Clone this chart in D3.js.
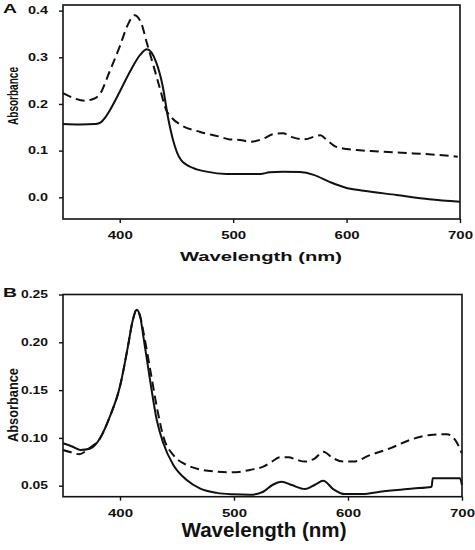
<!DOCTYPE html>
<html><head><meta charset="utf-8">
<script src="https://cdn.jsdelivr.net/npm/d3@7"></script>
<style>
html,body{margin:0;padding:0;background:#fff;}
svg{display:block;}
text{font-family:"Liberation Sans",Arial,sans-serif;font-weight:bold;fill:#111;}
</style></head>
<body>
<script>
// Panel A data
const aSolidX = [350,365,379,383,387,391,400,409,418,424,432,438,442.5,447,454,464.5,476.5,494,510,524,532,544,559,571,585,600,615,644,673,700];
const aSolidY = [0.157,0.156,0.157,0.16,0.17,0.185,0.226,0.269,0.305,0.317,0.29,0.237,0.172,0.123,0.08,0.063,0.055,0.05,0.05,0.05,0.0535,0.055,0.054,0.048,0.033,0.02,0.014,0.005,-0.004,-0.0095];
const aDashX = [350,360,369,376,383,391,400,407,413,419,424,430,435,441,446,454,471,488,497,506,515,527,535,544,552,562,577,582,591,600,630,659,682,698];
const aDashY = [0.223,0.212,0.207,0.21,0.223,0.269,0.323,0.369,0.39,0.373,0.33,0.28,0.237,0.187,0.17,0.155,0.14,0.13,0.124,0.123,0.119,0.126,0.135,0.137,0.129,0.124,0.133,0.124,0.108,0.1035,0.098,0.094,0.0906,0.087];
const aXTicks = [400,500,600,700];
const aYTicks = [0.0,0.1,0.2,0.3,0.4];
const aYTickLabels = ["0.0","0.1","0.2","0.3","0.4"];

// Panel B data
const bSolidX = [350,358,365,374,382.5,391,400,407,411,414.6,418,420.5,426.3,432.2,438,446.8,458.5,470,485,499,514,525.7,534,541.8,550.6,562.3,571,578.3,587,597.3,613,628,657,673.4,674.3,698.2,700];
const bSolidY = [0.0944,0.091,0.0874,0.089,0.0997,0.122,0.154,0.196,0.222,0.234,0.225,0.206,0.161,0.119,0.0944,0.0717,0.056,0.0473,0.0425,0.041,0.0405,0.0437,0.051,0.0542,0.0507,0.0465,0.051,0.0552,0.0465,0.0412,0.0412,0.0437,0.047,0.049,0.0578,0.0578,0.0507];
const bDashX = [350,357,364,373,382.5,391,400,407,411,414.6,418,421,427,433,438,446.8,458.5,470,485,499,514,525.7,533,540.4,547.7,555,562.3,571,578.3,587,595.8,604.6,619.3,636.8,654.4,672,686.6,694,699.8];
const bDashY = [0.0874,0.085,0.083,0.089,0.0997,0.122,0.154,0.196,0.222,0.234,0.226,0.208,0.168,0.128,0.1014,0.082,0.0717,0.067,0.0647,0.064,0.0665,0.07,0.075,0.0797,0.0797,0.077,0.0752,0.0787,0.0856,0.0787,0.0752,0.0752,0.082,0.089,0.0979,0.1031,0.1039,0.0979,0.084];
const bXTicks = [400,500,600,700];
const bYTicks = [0.05,0.10,0.15,0.20,0.25];
const bYTickLabels = ["0.05","0.10","0.15","0.20","0.25"];

const xLabel = "Wavelength (nm)";
const yLabel = "Absorbance";

const svg = d3.select("body").append("svg").attr("width",475).attr("height",550);

function panel(cfg){
  const g = svg.append("g");
  const x = d3.scaleLinear().domain([350,700]).range([cfg.left,cfg.right]);
  const y = d3.scaleLinear().domain(cfg.yDomain).range([cfg.bottom,cfg.top]);

  g.append("rect").attr("x",cfg.left).attr("y",cfg.top)
    .attr("width",cfg.right-cfg.left).attr("height",cfg.bottom-cfg.top)
    .attr("fill","none").attr("stroke","#111").attr("stroke-width",1.6);

  const xa = g.append("g").attr("transform",`translate(0,${cfg.bottom})`)
    .call(d3.axisBottom(x).tickValues(cfg.xTicks).tickSize(4).tickPadding(9).tickFormat(d3.format("d")));
  xa.select(".domain").remove();
  xa.selectAll("line").attr("stroke","#111").attr("stroke-width",1.4);
  xa.selectAll("text").attr("font-size",cfg.tickFont).attr("fill","#111")
    .attr("textLength",cfg.xTickLen).attr("lengthAdjust","spacingAndGlyphs");

  const ya = g.append("g").attr("transform",`translate(${cfg.left},0)`)
    .call(d3.axisLeft(y).tickValues(cfg.yTicks).tickSize(4).tickPadding(11)
      .tickFormat((d,i)=>cfg.yTickLabels[i]));
  ya.select(".domain").remove();
  ya.selectAll("line").attr("stroke","#111").attr("stroke-width",1.4);
  ya.selectAll("text").attr("font-size",cfg.tickFont).attr("fill","#111")
    .attr("textLength",cfg.yTickLen).attr("lengthAdjust","spacingAndGlyphs");

  const line = d3.line().x(d=>x(d[0])).y(d=>y(d[1])).curve(d3.curveMonotoneX);
  const solid = cfg.solidX.map((v,i)=>[v,cfg.solidY[i]]);
  const dash = cfg.dashX.map((v,i)=>[v,cfg.dashY[i]]);
  g.append("path").attr("d",line(dash)).attr("fill","none").attr("stroke","#111")
    .attr("stroke-width",2).attr("stroke-dasharray","9,5");
  g.append("path").attr("d",line(solid)).attr("fill","none").attr("stroke","#111")
    .attr("stroke-width",2);

  g.append("text").attr("x",cfg.xLabelX).attr("y",cfg.xLabelY).attr("text-anchor","middle")
    .attr("font-size",cfg.xLabelFont).attr("textLength",cfg.xLabelLen).attr("lengthAdjust","spacingAndGlyphs")
    .text(xLabel);
  g.append("text").attr("transform",`translate(${cfg.yLabelX},${cfg.yLabelY}) rotate(-90)`)
    .attr("text-anchor","middle").attr("font-size",cfg.yLabelFont)
    .attr("textLength",cfg.yLabelLen).attr("lengthAdjust","spacingAndGlyphs").text(yLabel);
  g.append("text").attr("x",3).attr("y",cfg.letterY).attr("font-size",cfg.letterFont)
    .attr("textLength",14).attr("lengthAdjust","spacingAndGlyphs").text(cfg.letter);
}

panel({left:63,right:460,top:5,bottom:219,yDomain:[-0.0465,0.412],
  xTicks:aXTicks,yTicks:aYTicks,yTickLabels:aYTickLabels,
  solidX:aSolidX,solidY:aSolidY,dashX:aDashX,dashY:aDashY,
  tickFont:10,xTickLen:25,yTickLen:20,
  xLabelX:261,xLabelY:261,xLabelFont:13.5,xLabelLen:162,
  yLabelX:18,yLabelY:96,yLabelFont:14,yLabelLen:58,
  letter:"A",letterY:13,letterFont:13});

panel({left:63,right:462,top:294.5,bottom:496.7,yDomain:[0.0385,0.25],
  xTicks:bXTicks,yTicks:bYTicks,yTickLabels:bYTickLabels,
  solidX:bSolidX,solidY:bSolidY,dashX:bDashX,dashY:bDashY,
  tickFont:10,xTickLen:25,yTickLen:27,
  xLabelX:264,xLabelY:537,xLabelFont:19.5,xLabelLen:165,
  yLabelX:18,yLabelY:405,yLabelFont:14.5,yLabelLen:74,
  letter:"B",letterY:297,letterFont:13});
</script>
</body></html>
